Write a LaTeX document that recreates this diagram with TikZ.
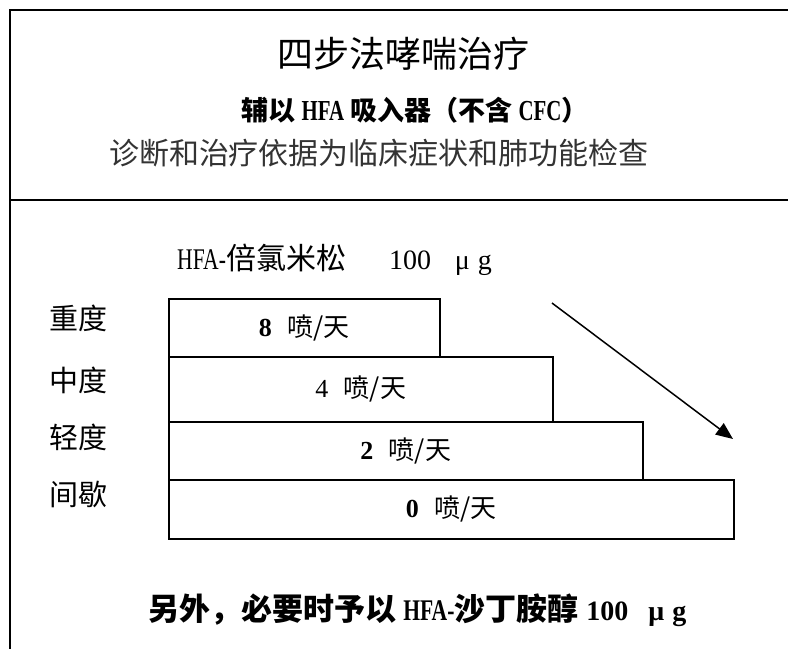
\documentclass[tikz,border=0pt]{standalone}
\usepackage{fontspec}
\setmainfont{Noto Sans CJK SC}
\newfontfamily\latinserif{Liberation Serif}
\newfontfamily\latinnarrow[FakeStretch=0.72]{Liberation Serif}
\newcommand{\lat}[2]{{\fontsize{#1}{#1}\selectfont\latinserif #2}}
\newcommand{\latn}[2]{{\fontsize{#1}{#1}\selectfont\latinnarrow #2}}
\usetikzlibrary{arrows.meta}
\tikzset{
  frameline/.style={line width=2pt, draw=black},
  dosebox/.style={draw=black, line width=1.5pt, inner sep=0pt, anchor=north west},
  txt/.style={inner sep=0pt, font=\fontsize{26pt}{30pt}\selectfont},
  sev/.style={inner sep=0pt, font=\fontsize{29pt}{32pt}\selectfont},
  trend/.style={line width=1.5pt, -{Triangle[length=17pt,width=14pt]}}
}
\begin{document}
\begin{tikzpicture}[x=1pt,y=-1pt]
\useasboundingbox (0,0) rectangle (788,649);
% frame
\coordinate (tl) at (10,10);
\coordinate (tr) at (788,10);
\coordinate (bl) at (10,649);
\coordinate (dl) at (10,200);
\coordinate (dr) at (788,200);
\draw[frameline] (tr) -- (tl) -- (bl);
\draw[frameline] (dl) -- (dr);
% header texts
\node[inner sep=0pt, font=\fontsize{36pt}{40pt}\selectfont] (title) at (403,54) {四步法哮喘治疗};
\node[inner sep=0pt, font=\fontsize{27pt}{30pt}\selectfont\bfseries] (sub) at (415,110) {辅以 \latn{29pt}{HFA} 吸入器（不含 \latn{29pt}{CFC}）};
\node[inner sep=0pt, text=black!80, font=\fontsize{30pt}{34pt}\selectfont] (basis) at (379,153) {诊断和治疗依据为临床症状和肺功能检查};
% drug line
\node[txt, anchor=west, font=\fontsize{30pt}{34pt}\selectfont] (drug) at (177,260) {\latn{30pt}{HFA-}倍氯米松\hspace{43pt}\lat{28pt}{100}\hspace{24pt}\lat{28pt}{μ\hspace{8pt}g}};
% boxes
\node[dosebox, minimum width=271pt, minimum height=58pt] (b1) at (168,298) {};
\node[dosebox, minimum width=384pt, minimum height=65pt] (b2) at (168,356) {};
\node[dosebox, minimum width=474pt, minimum height=58pt] (b3) at (168,421) {};
\node[dosebox, minimum width=565pt, minimum height=59pt] (b4) at (168,479) {};
\node[txt] (t1) at (b1.center) {\lat{26pt}{\bfseries 8}\hspace{0.6em}喷/天};
\node[txt] (t2) at (b2.center) {\lat{26pt}{4}\hspace{0.6em}喷/天};
\node[txt] (t3) at (b3.center) {\lat{26pt}{\bfseries 2}\hspace{0.6em}喷/天};
\node[txt] (t4) at (b4.center) {\lat{26pt}{\bfseries 0}\hspace{0.6em}喷/天};
% severity labels
\node[sev] (s1) at (78,318) {重度};
\node[sev] (s2) at (78,380) {中度};
\node[sev] (s3) at (78,437) {轻度};
\node[sev] (s4) at (78,495) {间歇};
% trend arrow
\coordinate (a1) at (552,303);
\coordinate (a2) at (733,439);
\draw[trend] (a1) -- (a2);
% bottom text
\node[txt, anchor=west, font=\fontsize{31pt}{34pt}\selectfont\bfseries] (extra) at (148,610) {另外，必要时予以 \latn{30pt}{HFA-}沙丁胺醇\hspace{8pt}\lat{28pt}{100}\hspace{20pt}\lat{28pt}{μ\hspace{8pt}g}};
\end{tikzpicture}
\end{document}
